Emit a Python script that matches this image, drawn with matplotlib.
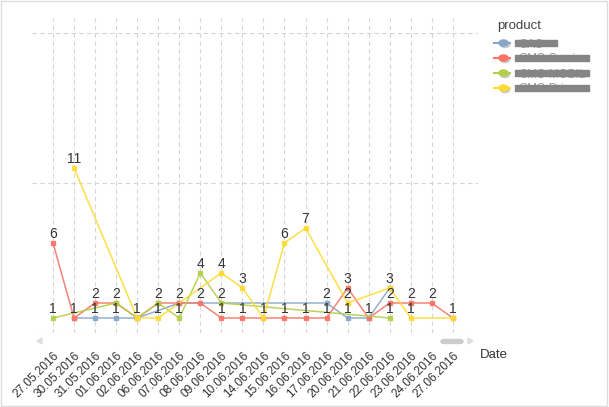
import matplotlib.pyplot as plt
import numpy as np
from matplotlib.patches import Rectangle, Circle, Polygon, FancyBboxPatch
from matplotlib.lines import Line2D

plt.rcParams['font.family'] = ['Liberation Sans', 'DejaVu Sans']

dates = ['27.05.2016', '30.05.2016', '31.05.2016', '01.06.2016', '02.06.2016',
         '06.06.2016', '07.06.2016', '08.06.2016', '09.06.2016', '10.06.2016',
         '14.06.2016', '15.06.2016', '16.06.2016', '17.06.2016', '20.06.2016',
         '21.06.2016', '22.06.2016', '23.06.2016', '24.06.2016', '27.06.2016']

# product -> (date index, count)
gas_idx = [1, 2, 3, 4, 6, 13, 14, 15, 16]
gas_val = [1, 1, 1, 1, 2, 2, 1, 1, 3]
service_idx = list(range(20))
service_val = [6, 1, 2, 2, 1, 2, 2, 2, 1, 1, 1, 1, 1, 1, 3, 1, 2, 2, 2, 1]
mobil_idx = [0, 3, 4, 5, 6, 7, 8, 16]
mobil_val = [1, 2, 1, 2, 1, 4, 2, 1]
drive_idx = [1, 4, 5, 8, 9, 10, 11, 12, 14, 16, 17, 19]
drive_val = [11, 1, 1, 4, 3, 1, 6, 7, 2, 3, 1, 1]

products = ['GAS', 'GMS-Service', 'GMS-MOBIL', 'GMS-Drive']
colors = ['#88a6cc', '#fa7466', '#b3cf48', '#fedb33']
series = [(gas_idx, gas_val), (service_idx, service_val),
          (mobil_idx, mobil_val), (drive_idx, drive_val)]

fig = plt.figure(figsize=(6.09, 4.07), dpi=100)
ax = fig.add_axes([0.0525, 0.1818, 0.7325, 0.774])

for (xs, ys), c in zip(series, colors):
    ax.plot(xs, ys, color=c, lw=1.1, alpha=0.9, marker='s', ms=3.2,
            mec=c, mfc=c, zorder=3)

# value labels, one per distinct value on each date
done = set()
for xs, ys in series:
    for x, y in zip(xs, ys):
        if (x, y) in done:
            continue
        done.add((x, y))
        ax.annotate(str(y), (x, y), xytext=(0, 1.5), textcoords='offset points',
                    ha='center', va='bottom', fontsize=10, color='#333333', zorder=5)

ax.set_xlim(-1.0, 20.2)
ax.set_ylim(0, 21)
ax.set_xticks(range(len(dates)))
ax.set_xticklabels(dates, rotation=45, ha='right', rotation_mode='anchor',
                   fontsize=8.5, color='#333333')
ax.set_yticks([0, 10, 20])
ax.set_yticklabels([])
ax.tick_params(length=0, pad=12)
ax.grid(True, ls=(0, (4, 3)), color='#d6d6d6', lw=0.8)
for s in ax.spines.values():
    s.set_visible(False)

fig.text(0.788, 0.128, 'Date', fontsize=9.5, color='#333333', va='center')

# scrollbar decoration
fig.patches.append(Polygon([[37 / 609, 1 - 341 / 407], [42 / 609, 1 - 338 / 407],
                            [42 / 609, 1 - 344 / 407]], closed=True,
                           transform=fig.transFigure, color='#dddddd'))
fig.patches.append(Polygon([[473 / 609, 1 - 341 / 407], [468 / 609, 1 - 338 / 407],
                            [468 / 609, 1 - 344 / 407]], closed=True,
                           transform=fig.transFigure, color='#dddddd'))
fig.patches.append(FancyBboxPatch((441 / 609, 1 - 343.5 / 407), 22 / 609, 4 / 407,
                                  boxstyle='round,pad=0,rounding_size=0.005',
                                  transform=fig.transFigure, color='#cccccc'))

# legend
fig.text(497 / 609, 1 - 26 / 407, 'product', fontsize=9.5, color='#444444', va='center')
leg_y = [43, 58, 73, 88]
for name, c, py in zip(products, colors, leg_y):
    yy = 1 - py / 407
    fig.lines.append(Line2D([494 / 609, 510 / 609], [yy, yy], color=c, lw=1.5,
                            transform=fig.transFigure))
    fig.patches.append(Circle((505 / 609, 1 - (py + 1.5) / 407), 0.0075,
                              transform=fig.transFigure, color='#c8c8c8'))
    fig.patches.append(Circle((503.5 / 609, yy), 0.0075,
                              transform=fig.transFigure, color=c))
    fig.text(518 / 609, 1 - (py + 4.5) / 407, name, fontsize=8.5, color='#999999',
             va='baseline')
    w = 42 if name == 'GAS' else 74
    fig.patches.append(Rectangle((515 / 609, 1 - (py + 3) / 407), w / 609, 6 / 407,
                                 transform=fig.transFigure, color='#858585', zorder=5))

# outer frame
fig.patches.append(Rectangle((0.002, 0.003), 0.995, 0.994, transform=fig.transFigure,
                             fill=False, ec='#dcdcdc', lw=1))

fig.savefig('out.png', dpi=100)
